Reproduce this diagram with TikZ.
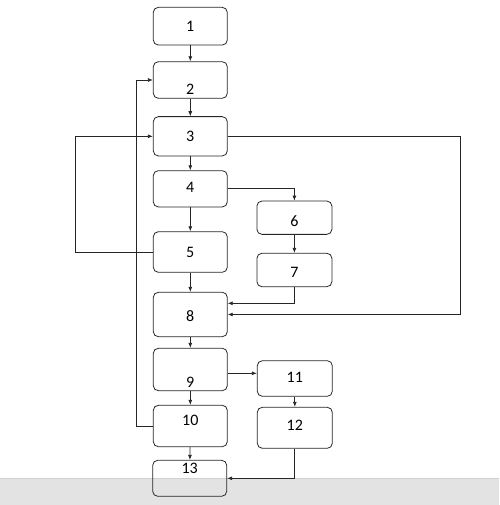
\documentclass[tikz,border=0pt]{standalone}
\usepackage{fontspec}
\setmainfont{Carlito}
\usetikzlibrary{arrows.meta}
\usetikzlibrary{calc}
\definecolor{band}{RGB}{227,227,227}
\definecolor{bandline}{RGB}{208,208,208}
\tikzset{box/.style={draw=black!85,line width=0.8pt,rounded corners=5pt,minimum width=74pt,inner sep=0pt,font=\fontsize{16}{16}\selectfont}}
\tikzset{t/.style={inner sep=0pt,font=\fontsize{16}{16}\selectfont}}
\tikzset{arr/.style={draw=black!85,line width=0.8pt,-{Latex[length=5pt,width=4pt]}}}
\begin{document}
\begin{tikzpicture}[x=1pt,y=-1pt]
      \useasboundingbox (0,0) rectangle (499,505);
      \fill[band] (0,478.3) rectangle (499,505);
      \draw[bandline,line width=0.8pt] (0,478.3) -- (499,478.3);
      % main column
      \node[box,minimum height=37.7pt] (n1) at (190.3,26.2) {1};
      \node[box,minimum height=36.6pt] (n2) at (190.3,80) {};
      \node[t] (t2) at (190.3,89) {2};
      \node[box,minimum height=39.3pt] (n3) at (190.3,136.3) {3};
      \node[box,minimum height=36.3pt] (n4) at (190.3,188.8) {};
      \node[t] (t4) at (190.3,187.7) {4};
      \node[box,minimum height=40.6pt] (n5) at (190.3,252) {5};
      \node[box,minimum height=44.4pt] (n8) at (190.3,314.5) {};
      \node[t] (t8) at (190.3,316) {8};
      \node[box,minimum height=42.4pt] (n9) at (190.3,369.5) {};
      \node[t] (t9) at (190.3,382.7) {9};
      \node[box,minimum height=41.4pt] (n10) at (190.3,426) {};
      \node[t] (t10) at (190.3,420) {10};
      \node[box,minimum height=36pt] (n13) at (189.7,478.3) {};
      \node[t] (t13) at (189.7,468.3) {13};
      % side column
      \node[box,minimum width=75pt,minimum height=33.3pt] (n6) at (294.4,217.7) {};
      \node[t] (t6) at (294.4,220.7) {6};
      \node[box,minimum width=75pt,minimum height=33.4pt] (n7) at (294.4,270) {};
      \node[t] (t7) at (294.4,272.7) {7};
      \node[box,minimum width=75pt,minimum height=35.6pt] (n11) at (294.8,378.5) {};
      \node[t] (t11) at (294.8,377) {11};
      \node[box,minimum width=75pt,minimum height=41pt] (n12) at (294.8,427.8) {};
      \node[t] (t12) at (294.8,425.3) {12};
      % loop corners
      \coordinate (r3) at (460.7,314.5);
      \coordinate (l5) at (75,252);
      \coordinate (l10) at (136.7,426);
      \coordinate (o9) at ([yshift=-3.8pt]n9.east);
      % arrows
      \draw[arr] (n1) -- (n2);
      \draw[arr] (n2) -- (n3);
      \draw[arr] (n3) -- (n4);
      \draw[arr] (n4) -- (n5);
      \draw[arr] (n5) -- (n8);
      \draw[arr] (n8) -- (n9);
      \draw[arr] (n9) -- (n10);
      \draw[arr] (n10) -- (n13);
      \draw[arr] (n4.east) -| (n6.north);
      \draw[arr] (n6) -- (n7);
      \draw[arr] (n7.south) |- ([yshift=11.2pt]n8.east);
      \draw[arr] (n3.east) -| (r3) -- (n8.east);
      \draw[arr] (n5.west) -- (l5) |- (n3.west);
      \draw[arr] (n10.west) -- (l10) |- (n2.west);
      \draw[arr] (o9) -- (o9 -| n11.west);
      \draw[arr] (n11) -- (n12);
      \draw[arr] (n12.south) |- (n13.east);
    \end{tikzpicture}
\end{document}
